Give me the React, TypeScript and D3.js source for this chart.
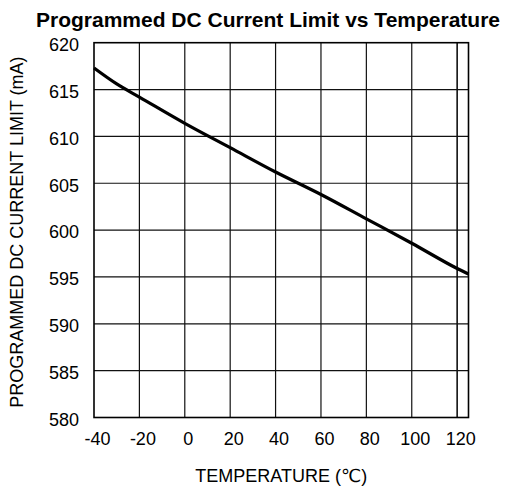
import { useEffect, useRef } from 'react';
import * as d3 from 'd3';

// Values
const temperatures = [-40, -30, -20, 0, 20, 40, 60, 80, 100, 120, 125];
const currentLimit = [617.3, 615.6, 614.2, 611.4, 608.8, 606.2, 603.8, 601.2, 598.6, 595.9, 595.3];

const xTicks = [-40, -20, 0, 20, 40, 60, 80, 100, 120];
const yTicks = [580, 585, 590, 595, 600, 605, 610, 615, 620];

const chartTitle = 'Programmed DC Current Limit vs Temperature';
const xTitle = 'TEMPERATURE (\u2103)';
const yTitle = 'PROGRAMMED DC CURRENT LIMIT (mA)';

export default function App() {
  const svgRef = useRef<SVGSVGElement>(null);

  useEffect(() => {
    if (!svgRef.current) return;

    const svg = d3.select(svgRef.current);
    svg.selectAll('*').remove();

    const width = 509;
    const height = 487;
    const font = '"Liberation Sans", Arial, "DejaVu Sans", sans-serif';

    svg.attr('width', width).attr('height', height);

    const xScale = d3.scaleLinear().domain([-40, 125]).range([94, 468.5]);
    const yScale = d3.scaleLinear().domain([580, 620]).range([417.5, 42.7]);

    // Grid lines
    const grid = svg.append('g').attr('class', 'grid');

    grid
      .selectAll('.v-line')
      .data(xTicks.slice(1))
      .enter()
      .append('line')
      .attr('x1', (d) => xScale(d))
      .attr('x2', (d) => xScale(d))
      .attr('y1', yScale(620))
      .attr('y2', yScale(580))
      .attr('stroke', '#111')
      .attr('stroke-width', (d) => (d === 120 ? 1.6 : 1.2));

    grid
      .selectAll('.h-line')
      .data(yTicks.slice(1, -1))
      .enter()
      .append('line')
      .attr('x1', xScale(-40))
      .attr('x2', xScale(125))
      .attr('y1', (d) => yScale(d))
      .attr('y2', (d) => yScale(d))
      .attr('stroke', '#111')
      .attr('stroke-width', 1.2);

    // Frame
    svg
      .append('rect')
      .attr('x', xScale(-40))
      .attr('y', yScale(620))
      .attr('width', xScale(125) - xScale(-40))
      .attr('height', yScale(580) - yScale(620))
      .attr('fill', 'none')
      .attr('stroke', '#000')
      .attr('stroke-width', 1.6);

    // Curve
    const line = d3
      .line<number>()
      .x((_d, i) => xScale(temperatures[i]))
      .y((d) => yScale(d))
      .curve(d3.curveMonotoneX);

    svg
      .append('path')
      .datum(currentLimit)
      .attr('d', line)
      .attr('fill', 'none')
      .attr('stroke', '#000')
      .attr('stroke-width', 3.2)
      .attr('stroke-linejoin', 'round');

    // Tick labels
    svg
      .selectAll('.x-label')
      .data(xTicks)
      .enter()
      .append('text')
      .attr('x', (d) => xScale(d) + 3.5)
      .attr('y', 438.5)
      .attr('dy', '0.35em')
      .attr('text-anchor', 'middle')
      .attr('font-family', font)
      .attr('font-size', '18px')
      .attr('fill', '#000')
      .text((d) => String(d));

    svg
      .selectAll('.y-label')
      .data(yTicks)
      .enter()
      .append('text')
      .attr('x', 79)
      .attr('y', (d) => yScale(d) + 2)
      .attr('dy', '0.35em')
      .attr('text-anchor', 'end')
      .attr('font-family', font)
      .attr('font-size', '18px')
      .attr('fill', '#000')
      .text((d) => String(d));

    // Titles
    svg
      .append('text')
      .attr('x', 268)
      .attr('y', 27)
      .attr('text-anchor', 'middle')
      .attr('font-family', font)
      .attr('font-size', '21px')
      .attr('font-weight', 'bold')
      .attr('fill', '#000')
      .text(chartTitle);

    svg
      .append('text')
      .attr('x', (xScale(-40) + xScale(125)) / 2)
      .attr('y', 475.5)
      .attr('dy', '0.35em')
      .attr('text-anchor', 'middle')
      .attr('font-family', font)
      .attr('font-size', '18px')
      .attr('fill', '#000')
      .text(xTitle);

    svg
      .append('text')
      .attr('transform', `translate(17,${(yScale(580) + yScale(620)) / 2 + 2}) rotate(-90)`)
      .attr('dy', '0.35em')
      .attr('text-anchor', 'middle')
      .attr('font-family', font)
      .attr('font-size', '18px')
      .attr('fill', '#000')
      .text(yTitle);
  }, []);

  return (
    <div style={{ position: 'absolute', left: 0, top: 0, background: '#fff' }}>
      <svg ref={svgRef} style={{ display: 'block' }} />
    </div>
  );
}
